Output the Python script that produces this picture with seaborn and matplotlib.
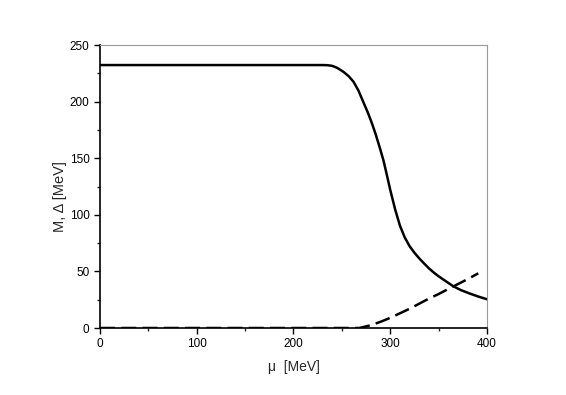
import matplotlib
matplotlib.use("Agg")
import matplotlib.pyplot as plt
import seaborn as sns
import pandas as pd
from matplotlib.ticker import MultipleLocator

mu_M = [0, 230, 235, 240, 245, 251.5, 257, 262, 267, 272, 277, 281, 285, 289.4, 293, 296.3, 300, 305, 310,
        315, 320, 325, 330, 335, 340, 345, 350, 358, 365, 373, 382, 391, 400]
M = [232.3, 232.3, 232.2, 231.6, 229.9, 226.4, 222.5, 217.6, 210, 200, 190, 181, 171, 158.7, 148, 136, 122,
     105, 90.5, 80, 72.3, 66.5, 61.5, 57, 52.7, 49, 45.7, 41, 37, 33.5, 30.5, 27.8, 25.4]
mu_D = [0, 268, 272, 280, 290, 300, 310, 320, 330, 340, 350, 360, 370, 380, 391]
D = [0, 0, 0.8, 2.5, 5.5, 9, 13, 17, 21.5, 26, 30, 34.5, 38.8, 43.2, 48.3]

sns.set_style("ticks")
plt.rcParams['font.family'] = ['Liberation Sans', 'DejaVu Sans']

fig = plt.figure(figsize=(5.66, 3.95), dpi=100)
ax = fig.add_axes([0.1767, 0.1696, 0.6837, 0.7164])

dfM = pd.DataFrame({"mu": mu_M, "v": M})
dfD = pd.DataFrame({"mu": mu_D, "v": D})
sns.lineplot(data=dfM, x="mu", y="v", ax=ax, color="black", lw=1.8, estimator=None)
sns.lineplot(data=dfD, x="mu", y="v", ax=ax, color="black", lw=1.8, estimator=None,
             linestyle=(0, (6, 2.5)))

ax.set_xlim(0, 400)
ax.set_ylim(0, 250)
ax.xaxis.set_major_locator(MultipleLocator(100))
ax.xaxis.set_minor_locator(MultipleLocator(50))
ax.yaxis.set_major_locator(MultipleLocator(50))
ax.yaxis.set_minor_locator(MultipleLocator(25))
ax.tick_params(which="major", direction="out", length=4.5, width=1, labelsize=8.5, colors="black", pad=3)
ax.tick_params(which="minor", direction="out", length=2.5, width=1)
for s in ["left", "bottom"]:
    ax.spines[s].set_color("black")
    ax.spines[s].set_linewidth(1.2)
for s in ["top", "right"]:
    ax.spines[s].set_color("#999999")
    ax.spines[s].set_linewidth(0.8)

ax.set_xlabel("μ  [MeV]", fontsize=10)
ax.set_ylabel("M, Δ [MeV]", fontsize=10.5)
ax.xaxis.set_label_coords(0.5, -0.113)
ax.yaxis.set_label_coords(-0.085, 0.463)

fig.savefig("out.png", dpi=100)
